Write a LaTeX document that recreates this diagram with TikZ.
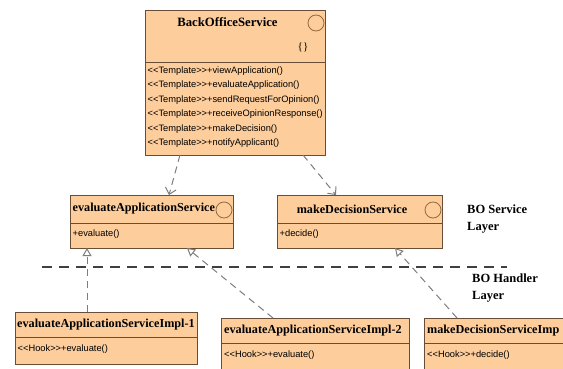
\documentclass[tikz,border=0pt]{standalone}
\usepackage{fontspec}
\setmainfont{Liberation Serif}
\newfontfamily\opfont{Liberation Sans}
\usetikzlibrary{arrows.meta}
\definecolor{peach}{RGB}{253,205,156}
\definecolor{bordr}{RGB}{105,78,55}
\definecolor{circ}{RGB}{150,105,60}
\definecolor{conn}{RGB}{125,125,125}
\begin{document}
\begin{tikzpicture}[x=1pt,y=-1pt,
  cls/.style={draw=bordr, fill=peach, line width=0.9pt, rectangle, inner sep=0pt, anchor=north west},
  sepline/.style={draw=bordr, line width=0.9pt},
  ttl/.style={font=\bfseries\fontsize{12.2}{14}\selectfont, inner sep=0pt},
  op/.style={font=\opfont\fontsize{9.3}{10}\selectfont, inner sep=0pt, anchor=west},
  icon/.style={draw=circ, line width=0.8pt, circle, inner sep=0pt, minimum size=16pt},
  dep/.style={draw=conn, line width=1pt, dash pattern=on 7pt off 5pt, -{Straight Barb[length=6pt,width=11pt]}},
  real/.style={draw=conn, line width=1pt, dash pattern=on 7pt off 5pt, -{Triangle[open,length=8pt,width=9pt,fill=white]}},
  layerline/.style={draw=black!75, line width=1.1pt, dash pattern=on 10pt off 7pt},
  layer/.style={font=\bfseries\fontsize{12.5}{17}\selectfont, align=left, anchor=north west, inner sep=0pt}]
\clip (0,0) rectangle (563,369);
\fill[white] (0,0) rectangle (563,369);

% BackOfficeService
\node[cls, minimum width=180pt, minimum height=145pt] (bos) at (145,10) {};
\draw[sepline] (bos.west |- 0,62) -- (bos.east |- 0,62);
\node[ttl, font=\bfseries\fontsize{12.7}{14}\selectfont] (bost) at (227.5,22) {BackOfficeService};
\node[icon] (bosi) at (316,23) {};
\node[font=\fontsize{11}{12}\selectfont, inner sep=0pt] (bosb) at (303,47) {\{\}};
\node[op] (bo1) at (147.5,71) {<<Template>>+viewApplication()};
\node[op] (bo2) at (147.5,85.4) {<<Template>>+evaluateApplication()};
\node[op] (bo3) at (147.5,99.8) {<<Template>>+sendRequestForOpinion()};
\node[op] (bo4) at (147.5,114.2) {<<Template>>+receiveOpinionResponse()};
\node[op] (bo5) at (147.5,128.6) {<<Template>>+makeDecision()};
\node[op] (bo6) at (147.5,143) {<<Template>>+notifyApplicant()};

% evaluateApplicationService
\node[cls, minimum width=163pt, minimum height=53pt] (eas) at (70,195) {};
\draw[sepline] (eas.west |- 0,223) -- (eas.east |- 0,223);
\node[ttl, anchor=west] (east) at (72.5,209) {evaluateApplicationService};
\node[icon] (easi) at (224,210) {};
\node[op] (easo) at (72.5,234) {+evaluate()};

% makeDecisionService
\node[cls, minimum width=165pt, minimum height=53pt] (mds) at (277,195) {};
\draw[sepline] (mds.west |- 0,223) -- (mds.east |- 0,223);
\node[ttl] (mdst) at (352,209) {makeDecisionService};
\node[icon] (mdsi) at (433,210) {};
\node[op] (mdso) at (279.5,234) {+decide()};

% layer labels and separator
\node[layer] (lay1) at (467,205) {BO Service\\Layer};
\coordinate (dl1) at (42,267);
\coordinate (dl2) at (507,267);
\draw[layerline] (dl1) -- (dl2);
\node[layer] (lay2) at (472,274) {BO Handler\\Layer};

% Impl-1
\node[cls, minimum width=182pt, minimum height=52pt] (im1) at (15,312) {};
\draw[sepline] (im1.west |- 0,337) -- (im1.east |- 0,337);
\node[ttl, anchor=west] (im1t) at (17,325) {evaluateApplicationServiceImpl-1};
\node[op] (im1o) at (17.5,349) {<<Hook>>+evaluate()};

% Impl-2
\node[cls, minimum width=188pt, minimum height=60pt] (im2) at (221,318) {};
\draw[sepline] (im2.west |- 0,343) -- (im2.east |- 0,343);
\node[ttl, anchor=west] (im2t) at (224,331) {evaluateApplicationServiceImpl-2};
\node[op] (im2o) at (224,355) {<<Hook>>+evaluate()};

% makeDecisionServiceImpl (cut at right edge)
\node[cls, minimum width=160pt, minimum height=60pt] (im3) at (424,318) {};
\draw[sepline] (im3.west |- 0,343) -- (im3.east |- 0,343);
\node[ttl, anchor=west] (im3t) at (427,331) {makeDecisionServiceImp};
\node[op] (im3o) at (427,355) {<<Hook>>+decide()};

% connectors
\coordinate (bosA) at (180,155);
\coordinate (easTop) at (169,195);
\coordinate (bosB) at (303,155);
\coordinate (mdsTop) at (336,195);
\draw[dep] (bosA) -- (easTop);
\draw[dep] (bosB) -- (mdsTop);

\coordinate (im1Top) at (87,312);
\coordinate (easB1) at (87,248);
\coordinate (im2Top) at (273,318);
\coordinate (easB2) at (187,248);
\coordinate (im3Top) at (457,318);
\coordinate (mdsB) at (395,248);
\draw[real] (im1Top) -- (easB1);
\draw[real] (im2Top) -- (easB2);
\draw[real] (im3Top) -- (mdsB);
\end{tikzpicture}
\end{document}
